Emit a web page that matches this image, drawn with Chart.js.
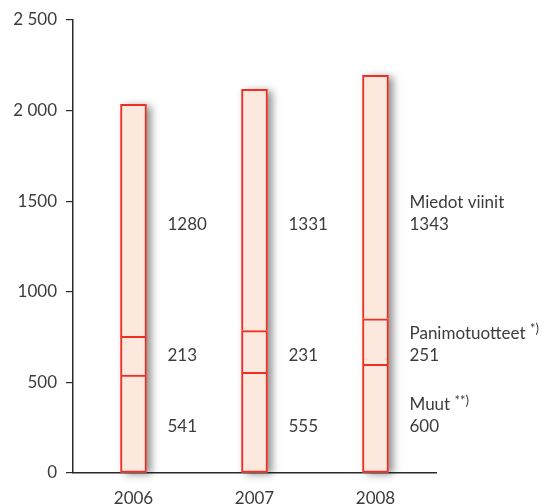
<!DOCTYPE html>
<html>
<head>
<meta charset="utf-8">
<script src="https://cdn.jsdelivr.net/npm/chart.js@4.4.1/dist/chart.umd.min.js"></script>
<style>
  html, body { margin: 0; padding: 0; background: #fff; }
  #wrap { width: 558px; height: 504px; }
</style>
</head>
<body>
<div id="wrap"><canvas id="chart"></canvas></div>
<script>
const years = ["2006", "2007", "2008"];
const muut = [541, 555, 600];
const panimo = [213, 231, 251];
const miedot = [1280, 1331, 1343];
const seriesNames = ["Muut", "Panimotuotteet", "Miedot viinit"];
const seriesMarks = ["**)", "*)", ""];
const yTicks = [0, 500, 1000, 1500, 2000, 2500];
const yTickLabels = ["0", "500", "1000", "1500", "2 000", "2 500"];

const FONT = "Lato";
const TEXT = "#3c3c3c";
const RED = "#ee3024";
const FILL = "#fde8de";

// drop shadow behind each stacked column
const shadowPlugin = {
  id: "shadow",
  beforeDatasetsDraw(chart) {
    const ctx = chart.ctx;
    const first = chart.getDatasetMeta(0);
    const last = chart.getDatasetMeta(chart.data.datasets.length - 1);
    ctx.save();
    ctx.fillStyle = FILL;
    ctx.shadowColor = "rgba(0,0,0,0.45)";
    ctx.shadowBlur = 8;
    ctx.shadowOffsetX = 4;
    ctx.shadowOffsetY = 2;
    first.data.forEach((bar, i) => {
      const top = last.data[i].y;
      const w = bar.width;
      ctx.fillRect(bar.x - w / 2, top, w, bar.base - top);
    });
    ctx.restore();
  }
};

// value labels to the right of each column, names beside the last one
const labelPlugin = {
  id: "sideLabels",
  afterDatasetsDraw(chart, args, opts) {
    const ctx = chart.ctx;
    const y = chart.scales.y;
    ctx.save();
    ctx.fillStyle = TEXT;
    ctx.textBaseline = "middle";
    ctx.textAlign = "left";
    chart.data.datasets.forEach((ds, d) => {
      const meta = chart.getDatasetMeta(d);
      const py = y.getPixelForValue(opts.anchors[d]);
      meta.data.forEach((bar, i) => {
        const px = bar.x + bar.width / 2 + 21;
        ctx.font = "17px " + FONT;
        ctx.fillText(String(ds.data[i]), px, py);
        if (i === meta.data.length - 1) {
          const name = seriesNames[d];
          ctx.fillText(name, px, py - 22);
          if (seriesMarks[d]) {
            const w = ctx.measureText(name + " ").width;
            ctx.font = "13px " + FONT;
            ctx.fillText(seriesMarks[d], px + w, py - 26);
          }
        }
      });
    });
    ctx.restore();
  }
};

new Chart(document.getElementById("chart"), {
  type: "bar",
  data: {
    labels: years,
    datasets: [
      { label: seriesNames[0], data: muut, borderSkipped: false },
      { label: seriesNames[1], data: panimo },
      { label: seriesNames[2], data: miedot }
    ].map(ds => Object.assign({
      backgroundColor: FILL,
      borderColor: RED,
      borderWidth: 2,
      barThickness: 26
    }, ds))
  },
  options: {
    responsive: true,
    maintainAspectRatio: false,
    animation: false,
    layout: { padding: { top: 20, right: 122, left: 0, bottom: 0 } },
    plugins: {
      legend: { display: false },
      tooltip: { enabled: false },
      sideLabels: { anchors: [254, 651, 1369] }
    },
    scales: {
      x: {
        stacked: true,
        grid: { display: false },
        border: { display: true, color: "#2a2a2a", width: 1.5 },
        ticks: { color: TEXT, font: { family: FONT, size: 17 }, padding: 7 },
        afterFit(s) { s.height = 31; }
      },
      y: {
        stacked: true,
        min: 0,
        max: 2500,
        afterBuildTicks(s) { s.ticks = yTicks.map(v => ({ value: v })); },
        grid: { drawOnChartArea: false, tickLength: 7, color: "#2a2a2a", lineWidth: 1.2 },
        border: { display: true, color: "#2a2a2a", width: 1.5 },
        ticks: {
          color: TEXT,
          font: { family: FONT, size: 17 },
          padding: 9,
          callback: (v, i) => yTickLabels[i]
        },
        afterFit(s) { s.width = 73; }
      }
    }
  },
  plugins: [shadowPlugin, labelPlugin]
});
</script>
</body>
</html>
